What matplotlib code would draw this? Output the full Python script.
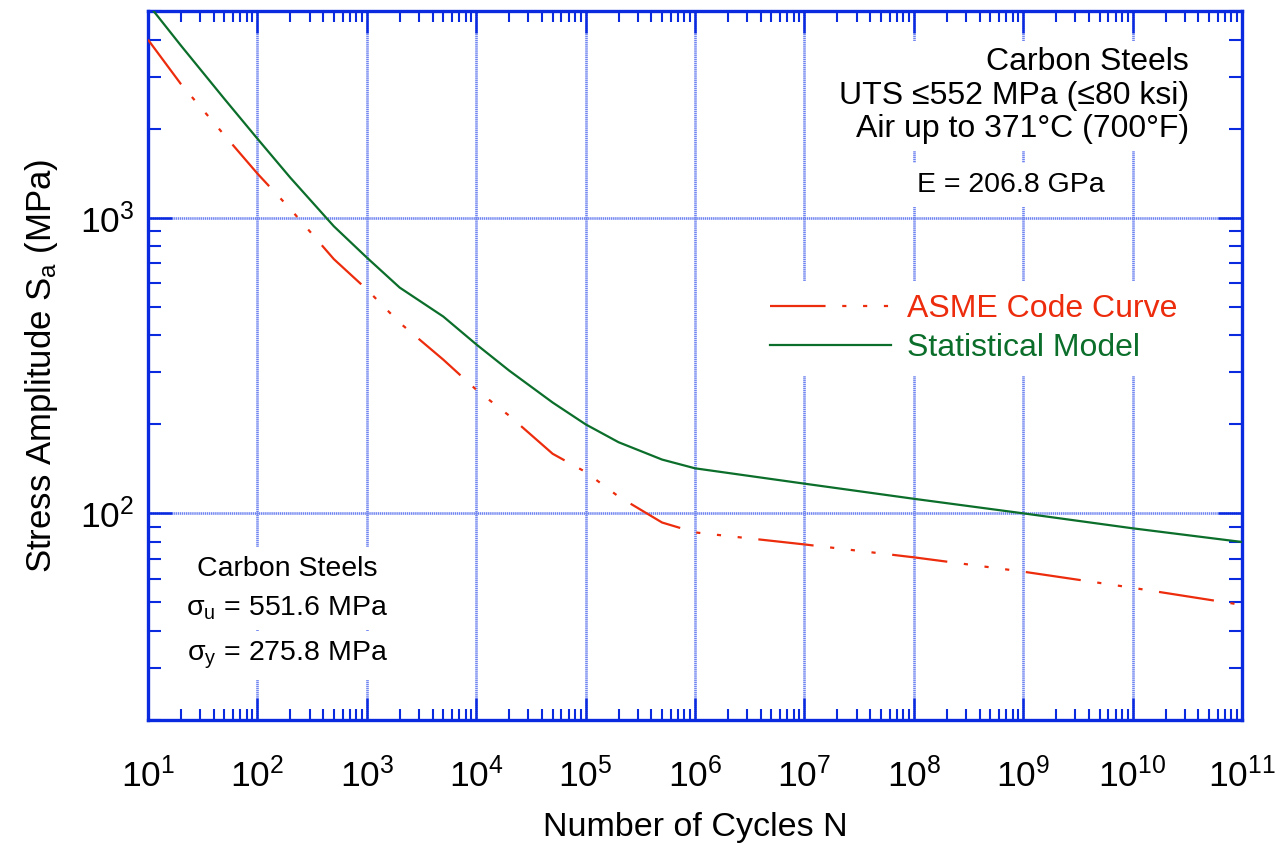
import matplotlib
matplotlib.use('Agg')
import matplotlib.pyplot as plt
from matplotlib.ticker import LogLocator, NullFormatter

plt.rcParams['font.family'] = ['Liberation Sans', 'DejaVu Sans']
plt.rcParams['mathtext.fontset'] = 'custom'
plt.rcParams['mathtext.rm'] = 'Liberation Sans'
plt.rcParams['mathtext.it'] = 'Liberation Sans:italic'
plt.rcParams['mathtext.bf'] = 'Liberation Sans:bold'
plt.rcParams['lines.scale_dashes'] = False

# ---- data ----
cycles_asme = [1e1, 2e1, 5e1, 1e2, 2e2, 5e2, 1e3, 2e3, 5e3, 1e4, 2e4, 5e4,
               1e5, 2e5, 5e5, 1e6, 1e7, 1e8, 1e9, 1e10, 1e11]
stress_asme = [4000, 2830, 1900, 1410, 1070, 724, 572, 441, 331, 262, 214, 159,
               138, 114, 93.1, 86.2, 78.5, 71.0, 63.5, 56.0, 49.0]

cycles_stat = [1e1, 2e1, 5e1, 1e2, 2e2, 5e2, 1e3, 2e3, 5e3, 1e4, 2e4, 5e4,
               1e5, 2e5, 5e5, 1e6, 1e7, 1e8, 1e9, 1e10, 1e11]
stress_stat = [5280, 3820, 2520, 1850, 1365, 935, 733, 580, 463, 373, 304, 237,
               200, 174, 152, 142, 126, 112, 100, 89, 80]

series_labels = ['ASME Code Curve', 'Statistical Model']
x_limits = (1e1, 1e11)
y_limits = (20, 5000)

FRAME = '#0a2ae0'
GRID = '#6f84f0'
RED = '#ec2c0c'
GREEN = '#0b6e2a'

W, H = 1280, 850
fig = plt.figure(figsize=(12.8, 8.5), dpi=100)
ax = fig.add_axes([148 / W, 1 - 720 / H, (1242 - 148) / W, (720 - 11) / H])

ax.set_xscale('log')
ax.set_yscale('log')
ax.set_xlim(*x_limits)
ax.set_ylim(*y_limits)

ax.grid(True, which='major', color=GRID, linestyle=(0, (1.0, 0.5)), linewidth=1.9, zorder=0)

asme_line, = ax.plot(cycles_asme, stress_asme, color=RED, linewidth=1.6,
                     label=series_labels[0], zorder=3, solid_capstyle='butt',
                     dash_capstyle='butt')
asme_line.set_dashes([40, 12, 3, 12, 3, 12, 3, 12])
stat_line, = ax.plot(cycles_stat, stress_stat, color=GREEN, linewidth=1.6,
                     label=series_labels[1], zorder=3)

for sp in ax.spines.values():
    sp.set_color(FRAME)
    sp.set_linewidth(2.4)

ax.xaxis.set_major_locator(LogLocator(base=10, numticks=20))
ax.xaxis.set_minor_locator(LogLocator(base=10, subs=range(2, 10), numticks=200))
ax.yaxis.set_minor_locator(LogLocator(base=10, subs=range(2, 10), numticks=200))
ax.xaxis.set_minor_formatter(NullFormatter())
ax.yaxis.set_minor_formatter(NullFormatter())

ax.tick_params(which='both', direction='in', top=True, right=True, color=FRAME)
ax.tick_params(axis='x', which='major', length=16, width=1.8, labelsize=25.5, pad=27)
ax.tick_params(axis='x', which='minor', length=8, width=1.5)
ax.tick_params(axis='y', which='major', length=17, width=1.8, labelsize=25.5, pad=10)
ax.tick_params(axis='y', which='minor', length=9.5, width=1.5)

ax.set_xlabel('Number of Cycles N', fontsize=24.5, labelpad=13)
ax.set_ylabel(r'Stress Amplitude S$_\mathdefault{a}$ (MPa)', fontsize=25, labelpad=14)

leg = ax.legend(loc='center left', bbox_to_anchor=(0.542, 0.552), fontsize=23,
                handlelength=3.8, handletextpad=0.5, labelspacing=0.3,
                borderpad=0.4, frameon=True, fancybox=False)
leg.get_frame().set_facecolor('white')
leg.get_frame().set_edgecolor('none')
leg.get_frame().set_alpha(1)
for txt, col in zip(leg.get_texts(), [RED, GREEN]):
    txt.set_color(col)


def fx(x):
    return x / W


def fy(y):
    return 1 - y / H


fig.text(fx(1189), fy(47), 'Carbon Steels\nUTS \u2264552 MPa (\u226480 ksi)\nAir up to 371\u00b0C (700\u00b0F)',
         ha='right', va='top', multialignment='right', fontsize=23, linespacing=1.16,
         bbox=dict(boxstyle='square,pad=0.2', facecolor='white', edgecolor='none'))
fig.text(fx(1011), fy(172), 'E = 206.8 GPa', ha='center', va='top', fontsize=20.5,
         bbox=dict(boxstyle='square,pad=0.3', facecolor='white', edgecolor='none'))

fig.text(fx(287), fy(556), 'Carbon Steels', ha='center', va='top', fontsize=20.5,
         bbox=dict(boxstyle='square,pad=0.3', facecolor='white', edgecolor='none'))
fig.text(fx(287), fy(594), '\u03c3$_\\mathdefault{u}$ = 551.6 MPa', ha='center', va='top', fontsize=20.5,
         bbox=dict(boxstyle='square,pad=0.3', facecolor='white', edgecolor='none'))
fig.text(fx(287), fy(640), '\u03c3$_\\mathdefault{y}$ = 275.8 MPa', ha='center', va='top', fontsize=20.5,
         bbox=dict(boxstyle='square,pad=0.3', facecolor='white', edgecolor='none'))

fig.savefig('out.png', dpi=100)
